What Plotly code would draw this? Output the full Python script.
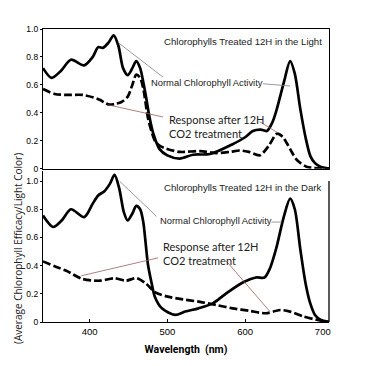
import plotly.graph_objects as go

# ---- data ----
light_normal_nm = [340, 351, 363, 376, 393, 404, 411, 417, 424, 431, 437, 443, 449, 455, 460, 465, 469, 473, 477, 482,
                   490, 500, 516, 533, 555, 584, 600, 610, 620, 628, 635, 641, 650, 658, 664, 671, 678, 684, 690, 697, 708]
light_normal = [0.72, 0.65, 0.70, 0.78, 0.74, 0.80, 0.87, 0.865, 0.90, 0.955, 0.88, 0.72, 0.67, 0.72, 0.77, 0.72, 0.62,
                0.50, 0.37, 0.25, 0.14, 0.095, 0.072, 0.10, 0.105, 0.175, 0.225, 0.27, 0.28, 0.27, 0.33, 0.43, 0.62,
                0.77, 0.68, 0.43, 0.22, 0.09, 0.04, 0.014, 0.0]

light_co2_nm = [340, 355, 370, 391, 405, 413, 420, 426, 434, 441, 449, 455, 460, 465, 469, 475, 480, 484, 490, 499,
                516, 542, 563, 580, 593, 605, 619, 630, 641, 648, 654, 661, 667, 679, 690, 708]
light_co2 = [0.57, 0.535, 0.528, 0.528, 0.51, 0.493, 0.47, 0.458, 0.465, 0.477, 0.516, 0.60, 0.673, 0.65, 0.575,
             0.364, 0.26, 0.20, 0.165, 0.143, 0.12, 0.126, 0.112, 0.12, 0.13, 0.12, 0.096, 0.16, 0.25, 0.23, 0.18,
             0.11, 0.06, 0.014, 0.005, 0.0]

dark_normal_nm = [340, 353, 364, 376, 393, 404, 411, 419, 426, 432, 438, 444, 449, 455, 460, 465, 469, 475, 480, 484,
                  493, 510, 523, 540, 558, 575, 597, 614, 625, 632, 640, 650, 658, 664, 671, 678, 684, 690, 697, 708]
dark_normal = [0.755, 0.674, 0.72, 0.80, 0.744, 0.84, 0.898, 0.928, 0.98, 1.044, 0.95, 0.78, 0.72, 0.77, 0.824, 0.80,
               0.71, 0.41, 0.27, 0.178, 0.097, 0.05, 0.074, 0.097, 0.13, 0.2, 0.28, 0.316, 0.316, 0.38, 0.52, 0.75,
               0.875, 0.80, 0.52, 0.27, 0.13, 0.05, 0.016, 0.0]

dark_co2_nm = [340, 355, 370, 391, 413, 432, 447, 460, 473, 484, 499, 520, 542, 563, 584, 606, 627, 645, 658, 675, 692, 708]
dark_co2 = [0.43, 0.395, 0.363, 0.305, 0.293, 0.31, 0.293, 0.312, 0.27, 0.212, 0.182, 0.16, 0.143, 0.12, 0.097, 0.079,
            0.062, 0.085, 0.074, 0.04, 0.016, 0.0]

x_ticks = [400, 500, 600, 700]
x_tick_labels = ["400", "500", "600", "700"]
y_ticks = [0, 0.2, 0.4, 0.6, 0.8, 1.0]
y_tick_labels = ["0", "0.2", "0.4", "0.6", "0.8", "1.0"]

titles = ["Chlorophylls Treated 12H in the Light", "Chlorophylls Treated 12H in the Dark"]
label_normal = "Normal Chlorophyll Activity"
label_co2 = "Response after 12H<br>CO2 treatment"
x_title = "Wavelength  (nm)"
y_title = "(Average Chlorophyll Efficacy/Light Color)"

fig = go.Figure()

def add_curves(xs, ys, xa, ya, dashed):
    fig.add_trace(go.Scatter(
        x=xs, y=ys, mode="lines", xaxis=xa, yaxis=ya, showlegend=False, hoverinfo="skip",
        line=dict(color="black", width=2.7, shape="spline", smoothing=0.8,
                  dash="8px,3px" if dashed else "solid")))

add_curves(light_normal_nm, light_normal, "x", "y", False)
add_curves(light_co2_nm, light_co2, "x", "y", True)
add_curves(dark_normal_nm, dark_normal, "x2", "y2", False)
add_curves(dark_co2_nm, dark_co2, "x2", "y2", True)

axis_common = dict(showgrid=False, zeroline=False, showline=True, linecolor="black", linewidth=1.3)

fig.update_layout(
    width=365, height=366,
    margin=dict(l=43, r=36, t=29, b=37),
    paper_bgcolor="white", plot_bgcolor="white",
    xaxis=dict(domain=[0, 1], range=[340, 708], anchor="y", mirror=True, showticklabels=False,
               ticks="", **axis_common),
    yaxis=dict(domain=[0.5233, 1.0], range=[0, 1.0], anchor="x", mirror=True, tickvals=y_ticks,
               ticktext=y_tick_labels, ticks="outside", ticklen=2, tickcolor="black",
               tickfont=dict(family="Liberation Sans, Arial", size=8.5, color="black"), **axis_common),
    xaxis2=dict(domain=[0, 1], range=[340, 708], anchor="y2", mirror=False, tickvals=x_ticks,
                ticktext=x_tick_labels, ticks="inside", ticklen=3, tickcolor="black",
                tickfont=dict(family="Liberation Sans, Arial", size=9.5, color="black"),
                title=dict(text="<b>" + x_title + "</b>", standoff=10,
                           font=dict(family="Roboto", size=10.5, color="black")),
                **axis_common),
    yaxis2=dict(domain=[0, 0.5147], range=[0, 1.07], anchor="x2", mirror=False, tickvals=y_ticks,
                ticktext=y_tick_labels, ticks="outside", ticklen=2, tickcolor="black",
                tickfont=dict(family="Liberation Sans, Arial", size=8.5, color="black"), **axis_common),
)

# right border of the lower panel (up to 1.0)
fig.add_shape(type="line", xref="x2 domain", yref="y2", x0=1, x1=1, y0=0, y1=1.0,
              line=dict(color="black", width=1.3))

# y-axis title spanning both panels
fig.add_annotation(text=y_title, xref="paper", yref="paper", x=-0.09, y=0.25, textangle=-90,
                   showarrow=False, xanchor="center", yanchor="middle",
                   font=dict(family="Open Sans", size=10, color="#222"))

# panel titles
for (xr, yr, yv, t) in [("x domain", "y domain", 0.909, titles[0]), ("x2 domain", "y2 domain", 0.895, titles[1])]:
    fig.add_annotation(text=t, xref=xr, yref=yr, x=0.982, y=yv, xanchor="right", yanchor="middle",
                       showarrow=False, font=dict(family="Liberation Sans, Arial", size=9.6, color="#222"))

# labels
fig.add_annotation(text=label_normal, xref="x", yref="y", x=476, y=0.615, xanchor="left", yanchor="middle",
                   showarrow=False, font=dict(family="Liberation Sans, Arial", size=9.4, color="#222"))
fig.add_annotation(text=label_co2, xref="x", yref="y", x=499, y=0.304, xanchor="left", yanchor="middle",
                   align="left", showarrow=False, font=dict(family="Lato", size=11, color="#222"))
fig.add_annotation(text=label_normal, xref="x2", yref="y2", x=488, y=0.72, xanchor="left", yanchor="middle",
                   showarrow=False, font=dict(family="Liberation Sans, Arial", size=9.4, color="#222"))
fig.add_annotation(text=label_co2, xref="x2", yref="y2", x=492, y=0.487, xanchor="left", yanchor="middle",
                   align="left", showarrow=False, font=dict(family="Lato", size=11, color="#222"))

# leader lines
gray = "#808080"
red = "#9a5f5a"
leaders = [
    ("x", "y", 436.5, 0.904, 494.5, 0.655, gray),
    ("x", "y", 623, 0.608, 657.8, 0.592, gray),
    ("x", "y", 423.6, 0.457, 494.5, 0.37, red),
    ("x", "y", 619, 0.336, 641.5, 0.259, red),
    ("x2", "y2", 438.7, 0.998, 486, 0.75, gray),
    ("x2", "y2", 634, 0.709, 647, 0.709, gray),
    ("x2", "y2", 389.3, 0.328, 488, 0.455, red),
    ("x2", "y2", 576, 0.432, 632, 0.074, red),
]
for xr, yr, x0, y0, x1, y1, c in leaders:
    fig.add_shape(type="line", xref=xr, yref=yr, x0=x0, y0=y0, x1=x1, y1=y1, line=dict(color=c, width=0.8))

fig.write_html("out.html", config={"displayModeBar": False},
               post_script="document.body.style.margin='0';")
